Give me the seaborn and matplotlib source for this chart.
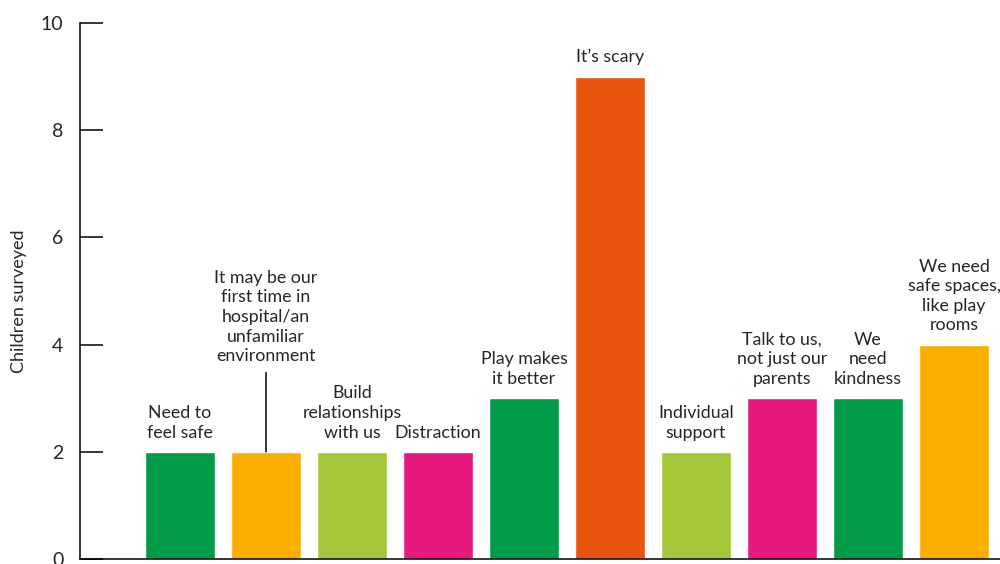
import matplotlib
matplotlib.use("Agg")
import matplotlib.pyplot as plt
import seaborn as sns
import pandas as pd

categories = [
    "Need to\nfeel safe",
    "It may be our\nfirst time in\nhospital/an\nunfamiliar\nenvironment",
    "Build\nrelationships\nwith us",
    "Distraction",
    "Play makes\nit better",
    "It\u2019s scary",
    "Individual\nsupport",
    "Talk to us,\nnot just our\nparents",
    "We\nneed\nkindness",
    "We need\nsafe spaces,\nlike play\nrooms",
]
values = [2, 2, 2, 2, 3, 9, 2, 3, 3, 4]
colors = ["#009B48", "#F9AE00", "#A5C73A", "#E6197F", "#009B48",
          "#E8560E", "#A5C73A", "#E6197F", "#009B48", "#F9AE00"]
y_ticks = [0, 2, 4, 6, 8, 10]
y_label = "Children surveyed"

sns.set_style("white")
plt.rcParams["font.family"] = ["Lato", "DejaVu Sans"]

df = pd.DataFrame({"cat": categories, "val": values})

fig = plt.figure(figsize=(10, 5.64), dpi=100)
ax = fig.add_axes([0.08, (564 - 559) / 564, 0.92, (559 - 23) / 564])

sns.barplot(data=df, x="cat", y="val", hue="cat", palette=colors,
            width=0.814, legend=False, ax=ax, saturation=1)

ax.set_xlim(-100 / 86, 820 / 86)
ax.set_ylim(0, 10)
ax.set_yticks(y_ticks)
ax.set_yticklabels([str(t) for t in y_ticks], fontsize=14)
ax.set_xticks([])
ax.set_xlabel("")
ax.set_ylabel(y_label, fontsize=13)
ax.yaxis.set_label_coords(-0.058, 0.48)

ax.tick_params(axis="y", direction="in", length=16.5, width=1.1, color="black",
               pad=12, left=True)
for side in ["top", "right"]:
    ax.spines[side].set_visible(False)
for side in ["left", "bottom"]:
    ax.spines[side].set_visible(True)
    ax.spines[side].set_color("black")
    ax.spines[side].set_linewidth(1.1)

for i, (cat, v) in enumerate(zip(categories, values)):
    if i == 1:
        ax.annotate(cat, xy=(i, v), xytext=(0, 63), textcoords="offset points",
                    ha="center", va="bottom", fontsize=12.8, linespacing=1.28,
                    multialignment="center")
        ax.annotate("", xy=(i, v), xytext=(0, 57), textcoords="offset points",
                    arrowprops=dict(arrowstyle="-", color="black", lw=1.1,
                                    shrinkA=0, shrinkB=0))
    else:
        ax.annotate(cat, xy=(i, v), xytext=(0, 8), textcoords="offset points",
                    ha="center", va="bottom", fontsize=12.8, linespacing=1.28,
                    multialignment="center", annotation_clip=False)

fig.savefig("out.png", dpi=100)
